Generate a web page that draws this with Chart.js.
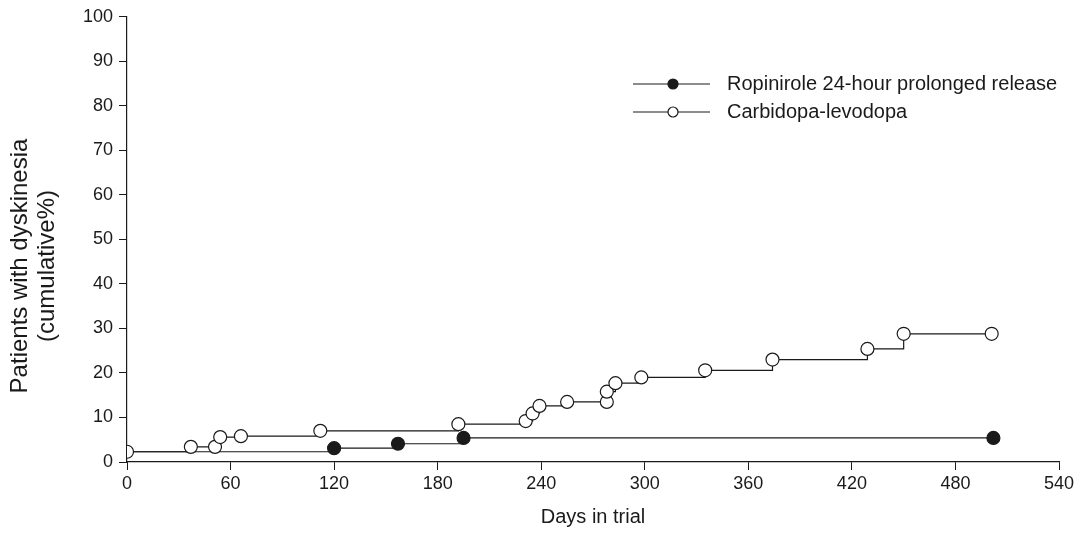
<!DOCTYPE html>
<html>
<head>
<meta charset="utf-8">
<script src="https://cdn.jsdelivr.net/npm/chart.js@4/dist/chart.umd.min.js"></script>
<style>
  body { margin: 0; background: #fff; }
  #wrap { width: 1081px; height: 533px; }
</style>
</head>
<body>
<div id="wrap"><canvas id="chart" width="1081" height="533"></canvas></div>
<script>
// series names as in the legend
const seriesNames = ['Ropinirole 24-hour prolonged release', 'Carbidopa-levodopa'];

// Ropinirole 24-hour prolonged release (filled circles)
const ropDays = [0, 120, 157, 195, 502];
const ropPct = [2.3, 3.1, 4.1, 5.4, 5.4];

// Carbidopa-levodopa (open circles)
const cldDays = [0, 37, 51, 54, 66, 112, 192, 231, 235, 239, 255, 278, 278, 283, 298, 335, 374, 429, 450, 501];
const cldPct = [2.3, 3.4, 3.4, 5.6, 5.8, 7.0, 8.5, 9.2, 10.9, 12.6, 13.5, 13.5, 15.8, 17.7, 19.0, 20.6, 23.0, 25.4, 28.8, 28.8];

// axis ticks / titles
const xTicks = [0, 60, 120, 180, 240, 300, 360, 420, 480, 540];
const yTicks = [0, 10, 20, 30, 40, 50, 60, 70, 80, 90, 100];
const xTitle = 'Days in trial';
const yTitle = ['Patients with dyskinesia', '(cumulative%)'];

const ink = '#1a1a1a';
const fontFamily = '"Liberation Sans", Arial, Helvetica, sans-serif';

function toPoints(xs, ys) {
    return xs.map((x, i) => ({ x: x, y: ys[i] }));
}

// legend + two-line y title drawn by hand
const extras = {
    id: 'extras',
    afterDraw(chart) {
        const ctx = chart.ctx;
        ctx.save();
        ctx.fillStyle = ink;
        ctx.strokeStyle = ink;

        // y axis title
        ctx.font = '24px ' + fontFamily;
        ctx.textAlign = 'center';
        ctx.textBaseline = 'middle';
        ctx.translate(20, 266);
        ctx.rotate(-Math.PI / 2);
        yTitle.forEach((line, i) => ctx.fillText(line, 0, i * 27));
        ctx.setTransform(1, 0, 0, 1, 0, 0);

        // legend
        const rows = [84, 112];
        ctx.font = '20px ' + fontFamily;
        ctx.textAlign = 'left';
        seriesNames.forEach((name, i) => {
            const y = rows[i];
            ctx.lineWidth = 1.2;
            ctx.beginPath();
            ctx.moveTo(633, y);
            ctx.lineTo(710, y);
            ctx.stroke();
            ctx.beginPath();
            ctx.arc(673, y, 5, 0, Math.PI * 2);
            ctx.fillStyle = i === 0 ? ink : '#fff';
            ctx.fill();
            ctx.stroke();
            ctx.fillStyle = ink;
            ctx.fillText(name, 727, y);
        });
        ctx.restore();
    }
};

const ctx = document.getElementById('chart');

new Chart(ctx, {
    type: 'line',
    data: {
        datasets: [{
            label: seriesNames[1],
            data: toPoints(cldDays, cldPct),
            stepped: true,
            borderColor: ink,
            borderWidth: 1.2,
            pointRadius: 6.5,
            pointBorderWidth: 1.2,
            pointBorderColor: ink,
            pointBackgroundColor: '#fff'
        }, {
            label: seriesNames[0],
            data: toPoints(ropDays, ropPct),
            stepped: true,
            borderColor: ink,
            borderWidth: 1.2,
            pointRadius: ropDays.map((d, i) => i === 0 ? 0 : 6.5),
            pointBorderWidth: 1.2,
            pointBorderColor: ink,
            pointBackgroundColor: ink
        }]
    },
    options: {
        responsive: false,
        animation: false,
        layout: { padding: { top: 14, right: 22, left: 0, bottom: 0 } },
        plugins: {
            legend: { display: false },
            tooltip: { enabled: false }
        },
        scales: {
            x: {
                type: 'linear',
                min: 0,
                max: 540,
                afterFit: (scale) => { scale.height = 71; },
                afterBuildTicks: (scale) => { scale.ticks = xTicks.map(v => ({ value: v })); },
                ticks: {
                    color: ink,
                    padding: 3,
                    maxRotation: 0,
                    font: { family: fontFamily, size: 18 }
                },
                grid: {
                    drawOnChartArea: false,
                    color: ink,
                    tickLength: 8,
                    tickWidth: 1
                },
                border: { color: ink, width: 1.2 },
                title: {
                    display: true,
                    text: xTitle,
                    color: ink,
                    font: { family: fontFamily, size: 20 },
                    padding: { top: 0, bottom: 4 }
                }
            },
            y: {
                min: 0,
                max: 100,
                afterFit: (scale) => { scale.width = 127; },
                afterBuildTicks: (scale) => { scale.ticks = yTicks.map(v => ({ value: v })); },
                ticks: {
                    color: ink,
                    padding: 6,
                    font: { family: fontFamily, size: 18 }
                },
                grid: {
                    drawOnChartArea: false,
                    color: ink,
                    tickLength: 8,
                    tickWidth: 1
                },
                border: { color: ink, width: 1.2 }
            }
        }
    },
    plugins: [extras]
});
</script>
</body>
</html>
